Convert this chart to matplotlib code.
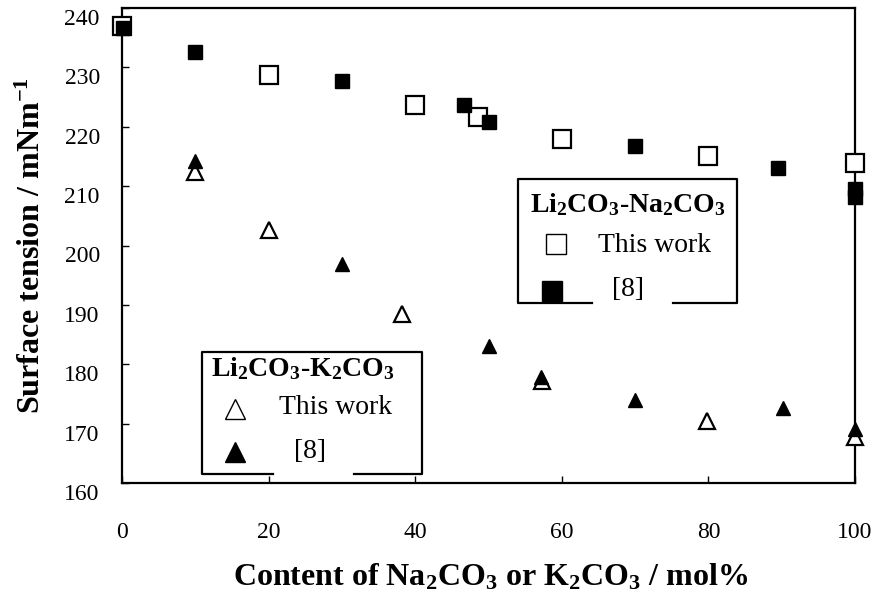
import matplotlib
matplotlib.use("Agg")
import matplotlib.pyplot as plt
import matplotlib.transforms as mtransforms
from matplotlib.lines import Line2D

plt.rcParams['font.family'] = ['Liberation Serif', 'DejaVu Serif']
plt.rcParams['mathtext.fontset'] = 'custom'
plt.rcParams['mathtext.rm'] = 'Liberation Serif'
plt.rcParams['mathtext.it'] = 'Liberation Serif:italic'
plt.rcParams['mathtext.bf'] = 'Liberation Serif:bold'

# Li2CO3-Na2CO3
na_this_x = [0, 20, 40, 48.5, 60, 80, 100]
na_this_y = [236.9, 228.8, 223.7, 221.6, 218.0, 215.1, 213.9]
na_ref_x = [0.2, 10, 30, 46.7, 50, 70, 89.5, 100, 100]
na_ref_y = [236.7, 232.6, 227.7, 223.7, 220.8, 216.8, 213.1, 209.6, 208.2]

# Li2CO3-K2CO3
k_this_x = [10, 20, 38.2, 57.3, 79.8, 100]
k_this_y = [212.3, 202.6, 188.4, 177.2, 170.5, 167.7]
k_ref_x = [10, 30, 50, 57.2, 70, 90.2, 100]
k_ref_y = [214.2, 196.9, 183.1, 177.8, 174.0, 172.6, 169.1]

W, H = 877, 597
fig = plt.figure(figsize=(W / 100, H / 100), dpi=100)
ax = fig.add_axes([122 / W, (H - 483) / H, (855 - 122) / W, (483 - 8) / H])

ax.plot(na_this_x, na_this_y, ls='none', marker='s', ms=12.5, mfc='white', mec='black', mew=1.6, clip_on=False, zorder=3)
ax.plot(na_ref_x, na_ref_y, ls='none', marker='s', ms=10, mfc='black', mec='black', clip_on=False, zorder=4)
ax.plot(k_this_x, k_this_y, ls='none', marker='^', ms=11, mfc='white', mec='black', mew=1.6, clip_on=False, zorder=3)
ax.plot(k_ref_x, k_ref_y, ls='none', marker='^', ms=10, mfc='black', mec='black', clip_on=False, zorder=4)

ax.set_xlim(0, 100)
ax.set_ylim(160, 240)
ax.set_xticks(range(0, 101, 20))
ax.set_yticks(range(160, 241, 10))
ax.tick_params(direction='in', length=5, width=1, labelsize=17, top=False, right=False)
ax.tick_params(axis='x', pad=28)
ax.tick_params(axis='y', pad=16)
# y tick labels sit a little below their ticks in the original
shift = mtransforms.ScaledTranslation(0, -0.09, fig.dpi_scale_trans)
for lab in ax.get_yticklabels():
    lab.set_transform(lab.get_transform() + shift)
for s in ax.spines.values():
    s.set_linewidth(1.6)

ax.set_xlabel(r'Content of Na$_\mathbf{2}$CO$_\mathbf{3}$ or K$_\mathbf{2}$CO$_\mathbf{3}$ / mol%',
              fontsize=23, fontweight='bold')
ax.set_ylabel(r'Surface tension / mNm$^\mathbf{-1}$', fontsize=23, fontweight='bold')
ax.xaxis.set_label_coords(0.503, -0.166)
ax.yaxis.set_label_coords(-0.102, 0.5)

# hand-drawn legend boxes, pixel coordinates
ov = fig.add_axes([0, 0, 1, 1])
ov.set_xlim(0, W)
ov.set_ylim(H, 0)
ov.axis('off')


def legend_box(x0, x1, y0, y1, gap0, gap1):
    kw = dict(color='black', lw=1.6, solid_capstyle='projecting')
    ov.add_line(Line2D([gap0, x0, x0, x1, x1, gap1], [y1, y1, y0, y0, y1, y1], **kw))


legend_box(518, 737, 179, 303, 592, 673)
ov.text(628, 205, r'Li$_\mathbf{2}$CO$_\mathbf{3}$-Na$_\mathbf{2}$CO$_\mathbf{3}$', fontsize=20, fontweight='bold', ha='center', va='center')
ov.plot([556], [244], marker='s', ms=14.5, mfc='white', mec='black', mew=1.0)
ov.text(655, 245, 'This work', fontsize=20, ha='center', va='center')
ov.plot([552], [291], marker='s', ms=15, mfc='black', mec='black')
ov.text(628, 290, '[8]', fontsize=20, ha='center', va='center')

legend_box(202, 422, 352, 474, 273, 354)
ov.text(303, 369, r'Li$_\mathbf{2}$CO$_\mathbf{3}$-K$_\mathbf{2}$CO$_\mathbf{3}$', fontsize=20, fontweight='bold', ha='center', va='center')
ov.plot([235], [409], marker='^', ms=15, mfc='white', mec='black', mew=1.0)
ov.text(336, 408, 'This work', fontsize=20, ha='center', va='center')
ov.plot([235], [452], marker='^', ms=15, mfc='black', mec='black')
ov.text(310, 452, '[8]', fontsize=20, ha='center', va='center')

fig.savefig('out.png', dpi=100)
